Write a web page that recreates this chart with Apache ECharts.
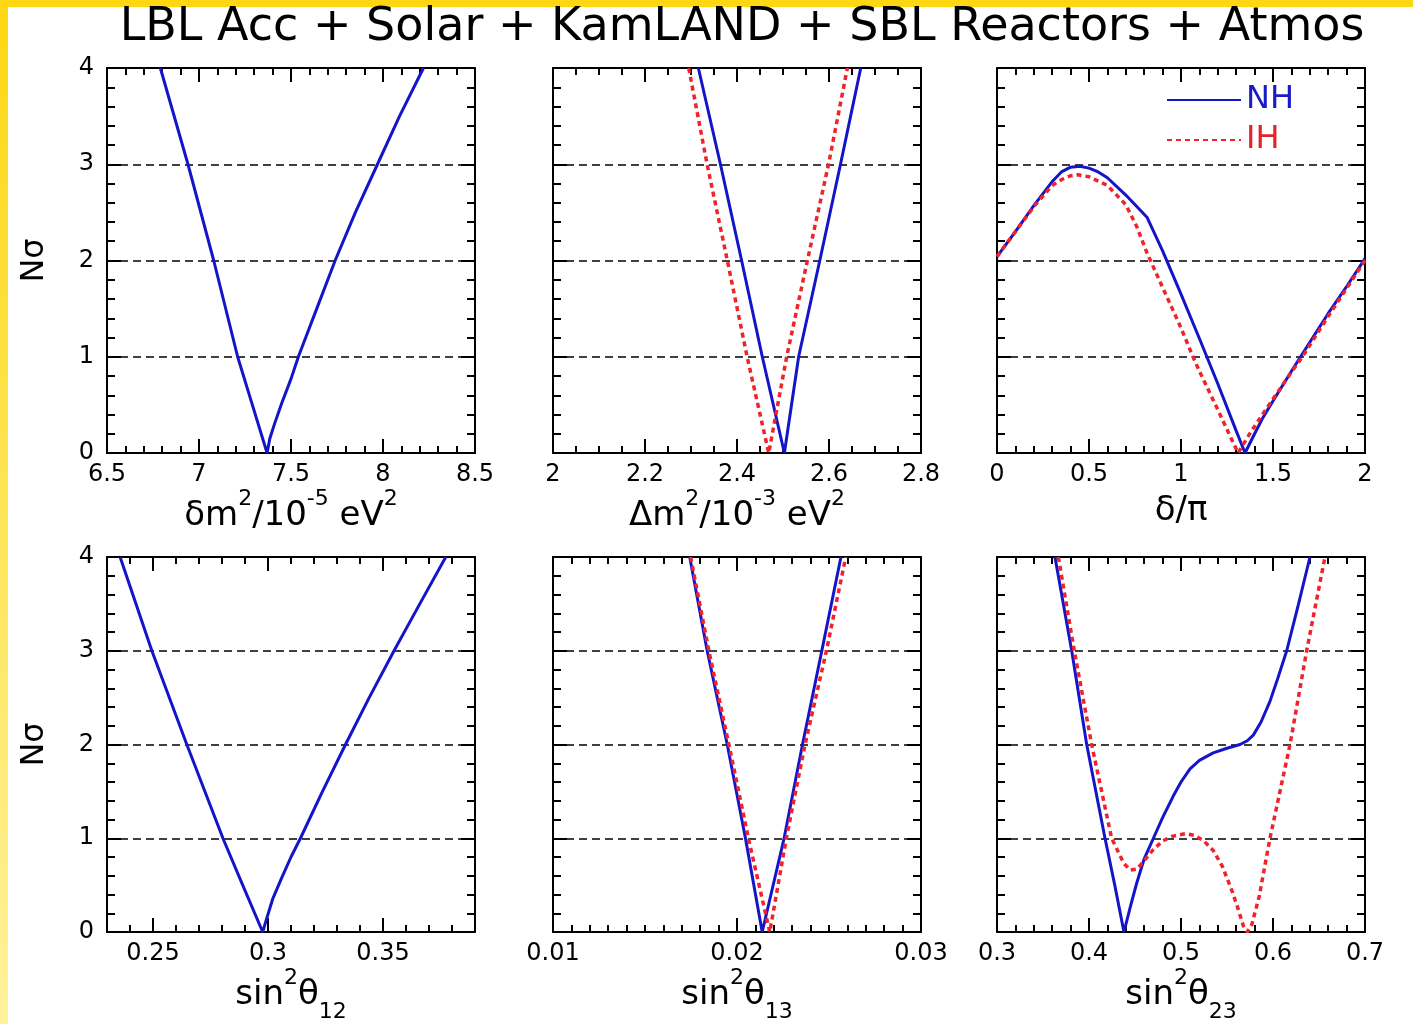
<!DOCTYPE html>
<html>
<head>
<meta charset="utf-8">
<title>LBL Acc + Solar + KamLAND + SBL Reactors + Atmos</title>
<script src="https://cdn.jsdelivr.net/npm/echarts@6/dist/echarts.min.js"></script>
<style>
    html, body { margin: 0; padding: 0; background: #fff; }
    #chart { width: 1413px; height: 1024px; }
</style>
</head>
<body>
<div id="chart"></div>
<script>
// N sigma levels
var sigmaTicks = [0, 1, 2, 3, 4];

// delta m^2 (10^-5 eV^2)
var dm21Ticks = [6.5, 7, 7.5, 8, 8.5];
var dm21NH = [[6.79, 4], [6.94, 3], [7.08, 2], [7.21, 1], [7.29, 0.5], [7.37, 0], [7.385, 0.15], [7.41, 0.3],
    [7.45, 0.52], [7.5, 0.77], [7.54, 1], [7.64, 1.5], [7.74, 2], [7.85, 2.5], [7.97, 3], [8.09, 3.5], [8.22, 4]];

// Delta m^2 (10^-3 eV^2)
var dm31Ticks = [2, 2.2, 2.4, 2.6, 2.8];
var dm31NH = [[2.316, 4], [2.364, 3], [2.41, 2], [2.455, 1], [2.503, 0], [2.534, 1], [2.58, 2], [2.625, 3], [2.669, 4]];
var dm31IH = [[2.295, 4], [2.335, 3], [2.379, 2], [2.422, 1], [2.469, 0], [2.508, 1], [2.553, 2], [2.599, 3], [2.64, 4]];

// delta / pi
var deltaTicks = [0, 0.5, 1, 1.5, 2];
var deltaNH = [[0, 2.04], [0.1, 2.3], [0.2, 2.57], [0.3, 2.82], [0.35, 2.92], [0.4, 2.97], [0.45, 2.98], [0.5, 2.96],
    [0.55, 2.92], [0.6, 2.86], [0.7, 2.68], [0.815, 2.45], [0.9, 2.1], [1.0, 1.65], [1.1, 1.19], [1.2, 0.72],
    [1.3, 0.23], [1.348, 0], [1.4, 0.2], [1.446, 0.37], [1.5, 0.54], [1.6, 0.85], [1.7, 1.15], [1.8, 1.45],
    [1.9, 1.73], [2, 2.02]];
var deltaIH = [[0, 2.04], [0.1, 2.3], [0.2, 2.56], [0.3, 2.78], [0.35, 2.84], [0.4, 2.88], [0.44, 2.89], [0.5, 2.87],
    [0.6, 2.78], [0.7, 2.58], [0.76, 2.35], [0.815, 2.08], [0.9, 1.72], [1.0, 1.3], [1.065, 1.0], [1.1, 0.85],
    [1.2, 0.45], [1.31, 0], [1.38, 0.22], [1.45, 0.42], [1.5, 0.56], [1.6, 0.84], [1.66, 1.0], [1.8, 1.42],
    [1.9, 1.71], [2, 2.0]];

// sin^2 theta12
var s12Ticks = [0.25, 0.3, 0.35];
var s12NH = [[0.2357, 4], [0.2495, 3], [0.2647, 2], [0.2804, 1], [0.289, 0.5], [0.2977, 0], [0.2995, 0.15],
    [0.302, 0.35], [0.306, 0.58], [0.31, 0.8], [0.3141, 1], [0.3237, 1.5], [0.3337, 2], [0.344, 2.5], [0.3548, 3],
    [0.366, 3.5], [0.3773, 4]];

// sin^2 theta13
var s13Ticks = [0.01, 0.02, 0.03];
var s13NH = [[0.01743, 4], [0.01838, 3], [0.01947, 2], [0.02046, 1], [0.02137, 0], [0.02256, 1], [0.02356, 2], [0.02461, 3], [0.02565, 4]];
var s13IH = [[0.01748, 4], [0.01847, 3], [0.01956, 2], [0.02062, 1], [0.02178, 0], [0.02268, 1], [0.0237, 2], [0.02486, 3], [0.02591, 4]];

// sin^2 theta23
var s23Ticks = [0.3, 0.4, 0.5, 0.6, 0.7];
var s23NH = [[0.363, 4], [0.3812, 3], [0.3975, 2], [0.4174, 1], [0.428, 0.5], [0.438, 0], [0.445, 0.27],
    [0.4518, 0.52], [0.46, 0.78], [0.47, 1.0], [0.48, 1.22], [0.4916, 1.45], [0.5, 1.6], [0.5098, 1.74],
    [0.52, 1.83], [0.535, 1.91], [0.55, 1.96], [0.5641, 2.0], [0.572, 2.04], [0.5786, 2.1], [0.587, 2.24],
    [0.5967, 2.46], [0.605, 2.7], [0.6149, 3], [0.6275, 3.49], [0.6402, 4]];
var s23IH = [[0.3667, 4], [0.384, 3], [0.4029, 2], [0.4246, 1], [0.432, 0.85], [0.438, 0.73], [0.4453, 0.66],
    [0.452, 0.67], [0.46, 0.76], [0.47, 0.88], [0.48, 0.97], [0.49, 1.02], [0.505, 1.05], [0.515, 1.03],
    [0.525, 0.97], [0.535, 0.87], [0.545, 0.7], [0.555, 0.45], [0.562, 0.25], [0.568, 0.06], [0.572, 0],
    [0.577, 0.08], [0.585, 0.38], [0.5967, 1], [0.6185, 2], [0.6366, 3], [0.6565, 4]];

var FONT = 'DejaVu Sans';
var BLUE = '#1414c8';
var RED = '#f0222a';

// major = spacing of labelled ticks, split = small ticks per major step
// s12 starts at 0.23, which is not a multiple of 0.05, so it gets hundredth ticks + custom long ticks
var panels = [
    { name: '{b|δm}{p|2}{b|/10}{p|-5}{b| eV}{p|2}', range: [6.5, 8.5], major: 0.5, split: 5, ticks: dm21Ticks, NH: dm21NH },
    { name: '{b|Δm}{p|2}{b|/10}{p|-3}{b| eV}{p|2}', range: [2, 2.8], major: 0.2, split: 4, ticks: dm31Ticks, NH: dm31NH, IH: dm31IH },
    { name: '{b|δ/π}', range: [0, 2], major: 0.5, split: 5, ticks: deltaTicks, NH: deltaNH, IH: deltaIH },
    { name: '{b|sin}{p|2}{b|θ}{s|12}', range: [0.23, 0.39], step: 0.01, ticks: s12Ticks, NH: s12NH },
    { name: '{b|sin}{p|2}{b|θ}{s|13}', range: [0.01, 0.03], major: 0.01, split: 10, ticks: s13Ticks, NH: s13NH, IH: s13IH },
    { name: '{b|sin}{p|2}{b|θ}{s|23}', range: [0.3, 0.7], major: 0.1, split: 5, ticks: s23Ticks, NH: s23NH, IH: s23IH }
];

// pixel boxes of the six frames
var frameLeft = [107, 553, 997];
var frameTop = [68, 557];

var nameRich = {
    b: { fontFamily: FONT, fontSize: 34, color: '#000', lineHeight: 56 },
    p: { fontFamily: FONT, fontSize: 22, color: '#000', lineHeight: 26, verticalAlign: 'top' },
    s: { fontFamily: FONT, fontSize: 22, color: '#000', lineHeight: 26, verticalAlign: 'bottom' }
};

var fmt = function (v) { return String(+Number(v).toFixed(4)); };

function frameLine() { return { show: true, onZero: false, lineStyle: { color: '#000', width: 2 } }; }
function tick(len) { return { show: true, inside: true, length: len, lineStyle: { color: '#000', width: 2 } }; }
function minor(n, len) { return { show: true, splitNumber: n, length: len, lineStyle: { color: '#000', width: 2 } }; }

var grids = [], xAxes = [], yAxes = [], series = [];

panels.forEach(function (p, i) {
    var col = i % 3;
    var row = Math.floor(i / 3);
    grids.push({ left: frameLeft[col], top: frameTop[row], width: 368, height: 385 });

    var bottomIndex = xAxes.length;
    ['bottom', 'top'].forEach(function (pos) {
        var isBottom = pos === 'bottom';
        var ax = {
            type: 'value', gridIndex: i, position: pos, min: p.range[0], max: p.range[1],
            axisLine: frameLine(),
            splitLine: { show: false },
            axisLabel: { show: false }
        };
        if (p.step) {
            // every hundredth as a short tick; labels come from the extra axis below
            ax.interval = p.step;
            ax.axisTick = tick(7);
        } else {
            ax.interval = p.major;
            ax.axisTick = tick(14);
            ax.minorTick = minor(p.split, 7);
            ax.axisLabel = {
                show: isBottom, formatter: fmt, margin: 10, showMinLabel: true, showMaxLabel: true,
                fontFamily: FONT, fontSize: 24, color: '#000'
            };
        }
        if (isBottom) {
            ax.name = p.name;
            ax.nameLocation = 'middle';
            ax.nameGap = row === 0 ? 30 : 35;
            ax.nameTextStyle = { rich: nameRich };
        }
        xAxes.push(ax);
    });
    if (p.step) {
        ['bottom', 'top'].forEach(function (pos) {
            var ct = tick(14);
            ct.customValues = p.ticks;
            xAxes.push({
                type: 'value', gridIndex: i, position: pos, min: p.range[0], max: p.range[1],
                axisLine: { show: false, onZero: false },
                axisTick: ct,
                axisLabel: {
                    show: pos === 'bottom', customValues: p.ticks, formatter: fmt, margin: 10,
                    fontFamily: FONT, fontSize: 24, color: '#000'
                },
                splitLine: { show: false }
            });
        });
    }

    var leftIndex = yAxes.length;
    ['left', 'right'].forEach(function (pos) {
        var showLab = pos === 'left' && col === 0;
        yAxes.push({
            type: 'value', gridIndex: i, position: pos, min: 0, max: 4, interval: 1,
            axisLine: frameLine(),
            axisTick: tick(14),
            minorTick: minor(5, 8),
            axisLabel: { show: showLab, formatter: fmt, margin: 13, fontFamily: FONT, fontSize: 24, color: '#000' },
            splitLine: { show: pos === 'left', lineStyle: { color: '#000', width: 1.5, type: [8, 5] } },
            name: showLab ? 'Nσ' : '',
            nameLocation: 'middle',
            nameRotate: 90,
            nameGap: 56,
            nameTextStyle: { fontFamily: FONT, fontSize: 32, color: '#000' }
        });
    });

    series.push({
        type: 'line', name: 'NH', xAxisIndex: bottomIndex, yAxisIndex: leftIndex, data: p.NH,
        symbol: 'none', z: 3, lineStyle: { color: BLUE, width: 3 }, itemStyle: { color: BLUE }
    });
    if (p.IH) {
        series.push({
            type: 'line', name: 'IH', xAxisIndex: bottomIndex, yAxisIndex: leftIndex, data: p.IH,
            symbol: 'none', z: 4, lineStyle: { color: RED, width: 3.5, type: [5, 4] }, itemStyle: { color: RED }
        });
    }
});

var chart = echarts.init(document.getElementById('chart'));
chart.setOption({
    animation: false,
    graphic: [
        { type: 'rect', silent: true, z: -10, shape: { x: 0, y: 0, width: 1413, height: 7 }, style: { fill: '#fdd712' } },
        {
            type: 'rect', silent: true, z: -10, shape: { x: 0, y: 0, width: 8, height: 1024 },
            style: {
                fill: new echarts.graphic.LinearGradient(0, 0, 0, 1, [
                    { offset: 0, color: '#fdd712' }, { offset: 1, color: '#fff29c' }
                ])
            }
        }
    ],
    title: {
        text: 'LBL Acc + Solar + KamLAND + SBL Reactors + Atmos',
        left: 737, top: 0, textAlign: 'center',
        textStyle: { fontFamily: FONT, fontSize: 46, fontWeight: 'normal', color: '#000' }
    },
    legend: {
        orient: 'vertical', left: 1166, top: 84, padding: 0, itemGap: 8,
        itemWidth: 74, itemHeight: 16,
        itemStyle: { opacity: 0 },
        textStyle: { fontFamily: FONT, fontSize: 32 },
        data: [
            { name: 'NH', textStyle: { color: '#1a1ac8' } },
            { name: 'IH', textStyle: { color: '#e0242a' } }
        ]
    },
    grid: grids,
    xAxis: xAxes,
    yAxis: yAxes,
    series: series
});
</script>
</body>
</html>
